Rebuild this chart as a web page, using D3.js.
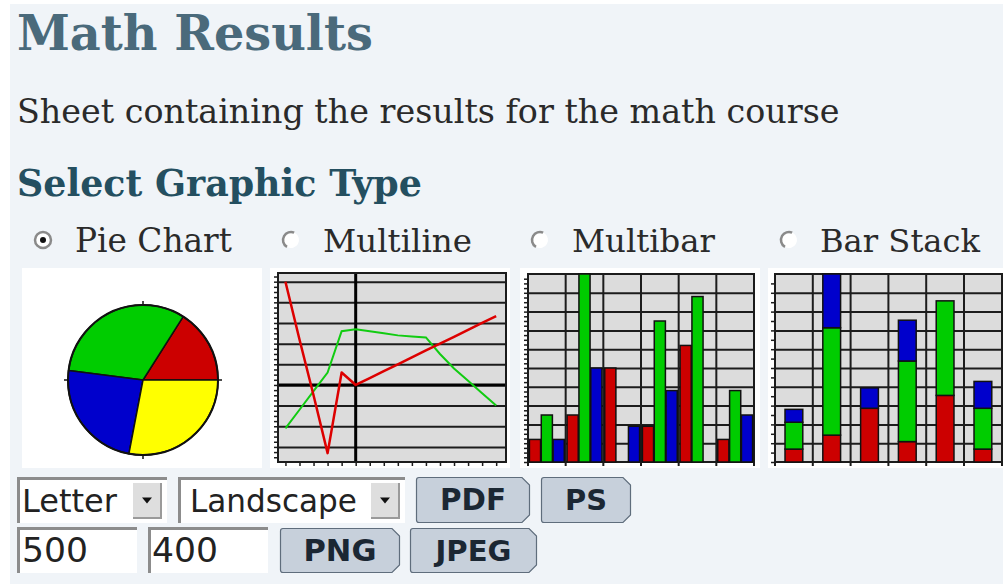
<!DOCTYPE html>
<html>
<head>
<meta charset="utf-8">
<script src="https://cdn.jsdelivr.net/npm/d3@7"></script>
<style>
  html, body { margin: 0; padding: 0; background: #fff; }
  svg { display: block; }
</style>
</head>
<body>
<div id="page"></div>
<script>

// ---- data ----
const pieValues = [16, 32, 24, 28];            // red, green, blue, yellow (counter-clockwise from 3 o'clock)
const lineX = d3.range(-5, 11);
const redLine = [5, 2.2, -0.5, -3.3, 0.6, 0, 0.33, 0.67, 1.0, 1.33, 1.67, 2.0, 2.33, 2.67, 3.0, 3.33];
const greenLine = [-2.1, -1.2, -0.3, 0.6, 2.6, 2.7, 2.6, 2.5, 2.4, 2.35, 2.3, 1.5, 0.8, 0.2, -0.4, -1.0];
const groups = ["1", "2", "3", "4", "5", "6"];
const redBars = [1.2, 2.5, 5, 1.9, 6.2, 1.2];
const greenBars = [2.5, 10, 0, 7.5, 8.8, 3.8];
const blueBars = [1.2, 5, 1.9, 3.8, 0, 2.5];
const graphTypes = ["Pie Chart", "Multiline", "Multibar", "Bar Stack"];
const paperSizes = ["Letter", "Landscape"];
const imageSizes = ["500", "400"];

const red = "#cc0000", green = "#00cc00", blue = "#0000cc", yellow = "#ffff00";
const gridColor = "#1c1c1c";
const plotBg = "#dcdcdc";

const W = 1003, H = 584;

const svg = d3.select("#page").append("svg")
  .attr("width", W)
  .attr("height", H);

svg.append("rect").attr("width", W).attr("height", H).attr("fill", "#fff");
svg.append("rect").attr("x", 10).attr("y", 4).attr("width", W - 10).attr("height", H - 4).attr("fill", "#f0f4f8");

// scale a text's font size so that it spans the given width
const fitText = (sel, width) => {
  const fs = parseFloat(sel.attr("font-size"));
  const w = sel.node().getComputedTextLength();
  sel.attr("font-size", fs * width / w);
  return sel;
};

const addText = (txt, x, y, width, opts) => {
  const t = svg.append("text")
    .attr("x", x)
    .attr("y", y)
    .attr("font-family", opts.family)
    .attr("font-weight", opts.weight || "normal")
    .attr("font-size", 20)
    .attr("fill", opts.color || "#222")
    .text(txt);
  return fitText(t, width);
};

// ---- headings ----
addText("Math Results", 17, 50, 356, { family: "DejaVu Serif", weight: "bold", color: "#4a6a7b" });
addText("Sheet containing the results for the math course", 17, 123, 823, { family: "DejaVu Serif", color: "#2a2a2a" });
addText("Select Graphic Type", 17, 196, 405, { family: "DejaVu Serif", weight: "bold", color: "#244f60" });

// ---- radio buttons ----
const radioX = [43, 291, 540, 789];
const labelX = [75, 323, 572, 820];
const labelW = [157, 149, 143, 160];
graphTypes.forEach((g, i) => {
  svg.append("circle")
    .attr("cx", radioX[i]).attr("cy", 240).attr("r", 8)
    .attr("fill", "#fff")
    .attr("stroke", "#8a8a8a")
    .attr("stroke-width", 2.5)
    .attr("stroke-dasharray", i === 0 ? null : "24 40")
    .attr("transform", i === 0 ? null : `rotate(120 ${radioX[i]} 240)`);
  if (i === 0) {
    svg.append("circle").attr("cx", radioX[i]).attr("cy", 240).attr("r", 3).attr("fill", "#111");
  }
  addText(g, labelX[i], 252, labelW[i], { family: "DejaVu Serif", color: "#2a2a2a" });
});

// ---- thumbnails: white cards ----
[[22, 240], [270, 240], [520, 240], [768, 240]].forEach(([x, w]) => {
  svg.append("rect").attr("x", x).attr("y", 268).attr("width", w).attr("height", 200).attr("fill", "#fff");
});

// ---- pie chart ----
const pieG = svg.append("g").attr("transform", "translate(143,380)");
const pie = d3.pie().sort(null)
  .startAngle(Math.PI / 2)
  .endAngle(Math.PI / 2 - 2 * Math.PI);
const arc = d3.arc().innerRadius(0).outerRadius(75);
pieG.selectAll("path")
  .data(pie(pieValues))
  .join("path")
    .attr("d", arc)
    .attr("fill", (d, i) => [red, green, blue, yellow][i])
    .attr("stroke", "#111")
    .attr("stroke-width", 1.5)
    .attr("stroke-linejoin", "round");
pieG.append("circle").attr("r", 75).attr("fill", "none").attr("stroke", "#111").attr("stroke-width", 2);
[[0, -75, 0, -79], [0, 75, 0, 79], [-75, 0, -79, 0], [75, 0, 79, 0]].forEach(([x1, y1, x2, y2]) => {
  pieG.append("line").attr("x1", x1).attr("y1", y1).attr("x2", x2).attr("y2", y2).attr("stroke", "#111").attr("stroke-width", 1.5);
});

// ---- multiline ----
const ml = { left: 278, right: 506, top: 273, bottom: 462 };
const mx = d3.scaleLinear().domain([-5.53, 10.7]).range([ml.left, ml.right]);
const my = d3.scaleLinear().domain([-3.73, 5.42]).range([ml.bottom, ml.top]);
const mlG = svg.append("g");
mlG.append("rect").attr("x", ml.left).attr("y", ml.top)
  .attr("width", ml.right - ml.left).attr("height", ml.bottom - ml.top).attr("fill", plotBg);

// horizontal grid
mlG.append("g")
  .attr("transform", `translate(${ml.left},0)`)
  .call(d3.axisLeft(my).tickValues(d3.range(-3, 6)).tickSize(-(ml.right - ml.left)).tickFormat(""))
  .call(g => g.select(".domain").remove())
  .call(g => g.selectAll("line").attr("stroke", gridColor).attr("stroke-width", 2));
// minor ticks left
mlG.append("g")
  .attr("transform", `translate(${ml.left},0)`)
  .call(d3.axisLeft(my).tickValues(d3.range(-3.5, 5.3, 0.25)).tickSize(4).tickFormat(""))
  .call(g => g.select(".domain").remove())
  .call(g => g.selectAll("line").attr("stroke", gridColor).attr("stroke-width", 1.5));
// bottom ticks
mlG.append("g")
  .attr("transform", `translate(0,${ml.bottom})`)
  .call(d3.axisBottom(mx).tickValues(lineX).tickSize(4).tickFormat(""))
  .call(g => g.select(".domain").remove())
  .call(g => g.selectAll("line").attr("stroke", gridColor).attr("stroke-width", 1.5));
// zero axes
mlG.append("line").attr("x1", ml.left).attr("x2", ml.right).attr("y1", my(0)).attr("y2", my(0))
  .attr("stroke", "#000").attr("stroke-width", 3);
mlG.append("line").attr("x1", mx(0)).attr("x2", mx(0)).attr("y1", ml.top).attr("y2", ml.bottom)
  .attr("stroke", "#000").attr("stroke-width", 3);
// frame
mlG.append("rect").attr("x", ml.left).attr("y", ml.top)
  .attr("width", ml.right - ml.left).attr("height", ml.bottom - ml.top)
  .attr("fill", "none").attr("stroke", gridColor).attr("stroke-width", 2);

const line = d3.line().x((d, i) => mx(lineX[i])).y(d => my(d));
mlG.append("path").datum(greenLine).attr("d", line)
  .attr("fill", "none").attr("stroke", "#11cc11").attr("stroke-width", 2);
mlG.append("path").datum(redLine).attr("d", line)
  .attr("fill", "none").attr("stroke", "#dd0000").attr("stroke-width", 2.5).attr("stroke-linejoin", "round");

// ---- bar chart helpers ----
const drawFrame = (g, box, y, gridVals, minorVals, x) => {
  g.append("rect").attr("x", box.left).attr("y", box.top)
    .attr("width", box.right - box.left).attr("height", box.bottom - box.top).attr("fill", plotBg);
  g.append("g")
    .attr("transform", `translate(${box.left},0)`)
    .call(d3.axisLeft(y).tickValues(gridVals).tickSize(-(box.right - box.left)).tickFormat(""))
    .call(s => s.select(".domain").remove())
    .call(s => s.selectAll("line").attr("stroke", gridColor).attr("stroke-width", 2));
  g.append("g")
    .attr("transform", `translate(${box.left},0)`)
    .call(d3.axisLeft(y).tickValues(minorVals).tickSize(4).tickFormat(""))
    .call(s => s.select(".domain").remove())
    .call(s => s.selectAll("line").attr("stroke", gridColor).attr("stroke-width", 1.5));
  // vertical group separators
  const bounds = groups.slice(1).map(c => x(c));
  g.selectAll(null).data(bounds).join("line")
    .attr("x1", d => d).attr("x2", d => d)
    .attr("y1", box.top).attr("y2", box.bottom + 4)
    .attr("stroke", gridColor).attr("stroke-width", 2);
  g.append("rect").attr("x", box.left).attr("y", box.top)
    .attr("width", box.right - box.left).attr("height", box.bottom - box.top)
    .attr("fill", "none").attr("stroke", gridColor).attr("stroke-width", 2);
  g.selectAll(null).data([box.left, box.right]).join("line")
    .attr("x1", d => d).attr("x2", d => d)
    .attr("y1", box.bottom).attr("y2", box.bottom + 4)
    .attr("stroke", gridColor).attr("stroke-width", 2);
};

// ---- multibar ----
const mb = { left: 528, right: 754, top: 274, bottom: 462 };
const bx = d3.scaleBand().domain(groups).range([mb.left, mb.right]);
const bxInner = d3.scaleBand().domain(["r", "g", "b"]).range([0, bx.bandwidth()]).paddingInner(0.06).paddingOuter(0.12);
const bMax = d3.max([...redBars, ...greenBars, ...blueBars]);
const by = d3.scaleLinear().domain([0, bMax]).range([mb.bottom, mb.top]);
const mbG = svg.append("g");
drawFrame(mbG, mb, by, d3.range(1, 10).map(i => bMax * i / 10), d3.range(0, 40).map(i => bMax * i / 40), bx);

const barRows = groups.map((c, i) => [
  { c, k: "r", v: redBars[i], fill: red },
  { c, k: "g", v: greenBars[i], fill: green },
  { c, k: "b", v: blueBars[i], fill: blue }
]).flat().filter(d => d.v > 0);
mbG.selectAll(".bar")
  .data(barRows)
  .join("rect")
    .attr("class", "bar")
    .attr("x", d => bx(d.c) + bxInner(d.k))
    .attr("y", d => by(d.v))
    .attr("width", bxInner.bandwidth())
    .attr("height", d => by(0) - by(d.v))
    .attr("fill", d => d.fill)
    .attr("stroke", "#111")
    .attr("stroke-width", 1.5);

// ---- bar stack ----
const bs = { left: 775, right: 1002, top: 274, bottom: 462 };
const sx = d3.scaleBand().domain(groups).range([bs.left, bs.left + 6 * 37.8]).paddingInner(0.53).paddingOuter(0.265);
const sxBounds = d3.scaleBand().domain(groups).range([bs.left, bs.left + 6 * 37.8]);
const stackData = groups.map((c, i) => ({ c, r: redBars[i], g: greenBars[i], b: blueBars[i] }));
const series = d3.stack().keys(["r", "g", "b"])(stackData);
const sMax = d3.max(series[series.length - 1], d => d[1]);
const sy = d3.scaleLinear().domain([0, sMax]).range([bs.bottom, bs.top]);
const bsG = svg.append("g");
drawFrame(bsG, bs, sy, d3.range(1, 10).map(i => sMax * i / 10), d3.range(0, 20).map(i => sMax * i / 20), sxBounds);

bsG.selectAll(".layer")
  .data(series)
  .join("g")
    .attr("class", "layer")
    .attr("fill", (d, i) => [red, green, blue][i])
  .selectAll("rect")
  .data(d => d.filter(s => s[1] > s[0]))
  .join("rect")
    .attr("x", d => sx(d.data.c))
    .attr("y", d => sy(d[1]))
    .attr("width", sx.bandwidth())
    .attr("height", d => sy(d[0]) - sy(d[1]))
    .attr("stroke", "#111")
    .attr("stroke-width", 1.5);

// ---- form controls ----
const drawInput = (x, y, w, h) => {
  svg.append("rect").attr("x", x).attr("y", y).attr("width", w).attr("height", h).attr("fill", "#fff");
  svg.append("path")
    .attr("d", `M${x + 1.5},${y + h} V${y + 1.5} H${x + w}`)
    .attr("fill", "none").attr("stroke", "#8c8c8c").attr("stroke-width", 3);
};
const drawSelect = (x, y, w, h) => {
  drawInput(x, y, w, h);
  const bxp = x + w - 34, byp = y + 6;
  svg.append("rect").attr("x", bxp).attr("y", byp).attr("width", 28).attr("height", h - 11).attr("fill", "#dedede");
  svg.append("path")
    .attr("d", `M${bxp},${byp + h - 11} H${bxp + 28} V${byp}`)
    .attr("fill", "none").attr("stroke", "#9a9a9a").attr("stroke-width", 2);
  const cx = bxp + 14, cy = byp + (h - 11) / 2;
  svg.append("path")
    .attr("d", `M${cx - 5},${cy - 3} L${cx + 5},${cy - 3} L${cx},${cy + 3} Z`)
    .attr("fill", "#111");
};
const drawButton = (x, y, w, h, label, textW) => {
  const c = 8;
  svg.append("path")
    .attr("d", `M${x + 3},${y + 0.5} H${x + w - c} L${x + w - 0.5},${y + c} V${y + h - c} L${x + w - c},${y + h - 0.5} H${x + 3} Q${x + 0.5},${y + h - 0.5} ${x + 0.5},${y + h - 3} V${y + 3} Q${x + 0.5},${y + 0.5} ${x + 3},${y + 0.5} Z`)
    .attr("fill", "#c7d0db")
    .attr("stroke", "#5f6d7c")
    .attr("stroke-width", 1.2);
  addText(label, x + (w - textW) / 2, y + 33, textW, { family: "DejaVu Sans", weight: "bold", color: "#1b2733" });
};

drawSelect(17, 477, 150, 46);
addText(paperSizes[0], 22, 512, 95, { family: "DejaVu Sans", color: "#222" });
drawSelect(178, 477, 227, 46);
addText(paperSizes[1], 190, 512, 167, { family: "DejaVu Sans", color: "#222" });
drawButton(416, 477, 114, 46, "PDF", 66);
drawButton(541, 477, 90, 46, "PS", 42);

drawInput(17, 527, 120, 46);
addText(imageSizes[0], 22, 562, 66, { family: "DejaVu Sans", color: "#222" });
drawInput(148, 527, 120, 46);
addText(imageSizes[1], 152, 562, 66, { family: "DejaVu Sans", color: "#222" });
drawButton(280, 528, 120, 45, "PNG", 73);
drawButton(410, 528, 127, 45, "JPEG", 76);

</script>
</body>
</html>
